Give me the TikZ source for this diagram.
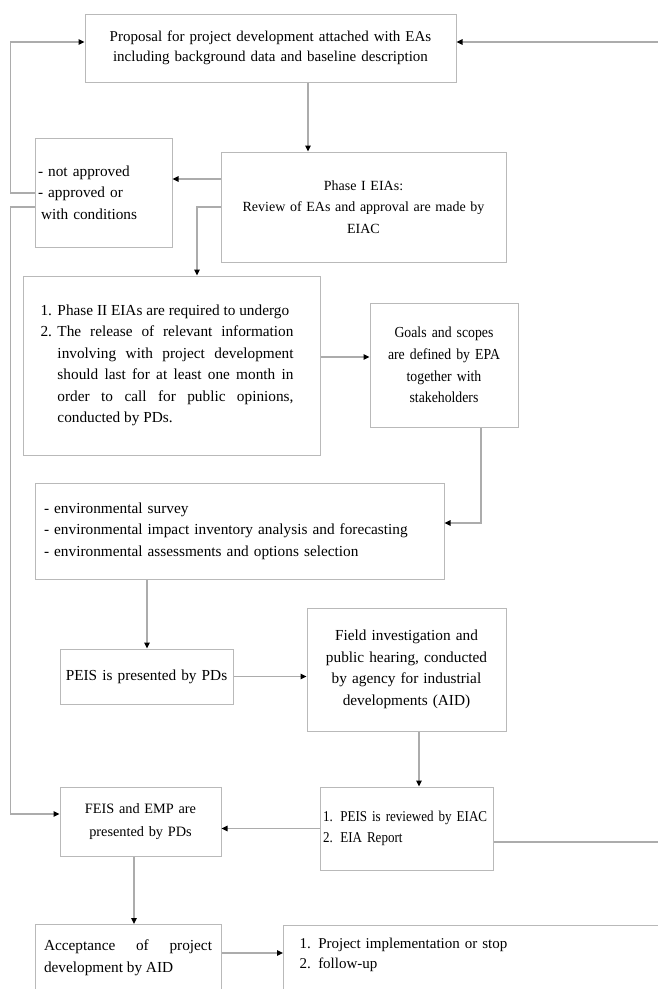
\documentclass[tikz,border=0pt]{standalone}
\usepackage{fontspec}
\setmainfont{Liberation Serif}
\newfontfamily\narrowserif[FakeStretch=0.9]{Liberation Serif}
\newfontfamily\slimserif[FakeStretch=0.87]{Liberation Serif}
\usetikzlibrary{positioning,arrows.meta}
\newcommand{\stage}[6][]{
	\node [box,text width=#4,minimum height=#5,#1] (#2) at (#3) {#6}
}
\newcommand{\listentry}[2]{\noindent\makebox[17pt][l]{#1}#2}
\tikzset{
	box/.style={draw=gray!55,line width=1pt,inner xsep=6pt,inner ysep=3pt,align=center,
		font=\fontsize{15.3}{21.5}\selectfont},
	flow/.style={draw=gray!65,line width=1.3pt,-{Triangle[length=6pt,width=5.5pt,black]}}
}

\begin{document}
\begin{tikzpicture}[x=1pt,y=-1pt]
	\useasboundingbox (0,0) rectangle (658,989);
	\clip (0,0) rectangle (658,989);

	% Boxes
	\stage [font=\fontsize{15}{20}\selectfont] {prop}{270.5,48}{359pt}{68pt}{Proposal for project development attached with EAs\\ including background data and baseline description};
	\stage [align=left,inner xsep=3pt] {cond}{103.5,192.5}{131pt}{109pt}{- not approved\\ - approved or\\ \hspace*{3pt}with conditions};
	\stage [font=\fontsize{14}{21.5}\selectfont] {phase1}{363.5,207}{273pt}{110pt}{Phase I EIAs:\\ Review of EAs and approval are made by\\ EIAC};
	\stage [align=justify,inner xsep=17.5pt] {phase2}{171.5,365.5}{262pt}{179pt}{%
		\listentry{1.}{Phase II EIAs are required to undergo}\par
		\listentry{2.}{\parbox[t]{236pt}{\leftskip=0pt\rightskip=0pt\parfillskip=0pt plus 1fil
		The release of relevant information\linebreak
		involving with project development\linebreak should last for at least one month in\linebreak
		order to call for public opinions,\linebreak conducted by PDs.}}};
	\stage [font=\narrowserif\fontsize{15.3}{21.7}\selectfont] {goals}{444,365}{136pt}{124pt}{Goals and scopes\\ are defined by EPA\\ together with\\ stakeholders};
	\stage [align=left,inner xsep=9pt] {env}{239.5,531}{391pt}{96pt}{- environmental survey\\
		- environmental impact inventory analysis and forecasting\\
		- environmental assessments and options selection};
	\stage [inner xsep=2pt] {peis}{146.5,676.5}{169pt}{55pt}{PEIS is presented by PDs};
	\stage {field}{406.5,669.5}{187pt}{123pt}{Field investigation and\\ public hearing, conducted\\ by agency for industrial\\ developments (AID)};
	\stage [align=left,inner xsep=3pt,font=\slimserif\fontsize{15}{21}\selectfont] {review}{406.5,828.5}{167pt}{83pt}{1. PEIS is reviewed by EIAC\\ 2. EIA Report};
	\stage [font=\fontsize{14.3}{23}\selectfont] {feis}{140.5,821.5}{149pt}{69pt}{FEIS and EMP are\\ presented by PDs};
	% these two run on below the page edge
	\stage [align=justify,anchor=north,inner xsep=9pt,inner ysep=15.5pt,font=\fontsize{15.3}{22}\selectfont] {accept}{128,924}{168pt}{0pt}{%
		\noindent Acceptance of project\linebreak development by AID\par\noindent\rule{0pt}{40pt}};
	\stage [align=left,anchor=north west,inner xsep=16pt,inner ysep=12.5pt,font=\fontsize{15}{20}\selectfont] {impl}{283,925}{400pt}{0pt}{%
		1. Project implementation or stop\\ 2. follow-up\par\noindent\rule{0pt}{40pt}};

	% Connectors
	\draw [flow] (prop.south -| 308,0) -- (phase1.north -| 308,0);
	\draw [flow] (phase1.west |- 0,179) -- (cond.east |- 0,179);
	\draw [flow] (cond.west |- 0,193) -- ++(-24,0) |- (prop.west |- 0,42);
	\draw [flow] (cond.west |- 0,207) -- ++(-24,0) |- (feis.west |- 0,814);
	\draw [flow] (phase1.west |- 0,207) -| (phase2.north -| 197,0);
	\draw [flow] (phase2.east |- 0,357) -- (goals.west |- 0,357);
	\draw [flow] (goals.south -| 481,0) |- (env.east |- 0,523);
	\draw [flow] (env.south -| 147,0) -- (peis.north -| 147,0);
	\draw [flow] (peis.east) -- (field.west |- peis.east);
	\draw [flow] (field.south -| 419,0) -- (review.north -| 419,0);
	\draw [flow] (review.west) -- (feis.east |- review.west);
	\draw [flow] (review.east |- 0,842) -- ++(180,0) |- (prop.east |- 0,42);
	\draw [flow] (feis.south -| 134,0) -- (accept.north -| 134,0);
	\draw [flow] (accept.east |- 0,953) -- (impl.west |- 0,953);
\end{tikzpicture}
\end{document}
